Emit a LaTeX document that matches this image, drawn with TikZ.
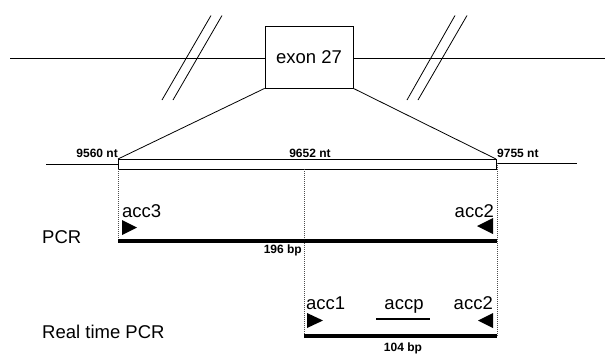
\documentclass[tikz,border=0pt]{standalone}
\usepackage{fontspec}
\setmainfont{Liberation Sans}
\begin{document}
\begin{tikzpicture}[x=1pt,y=-1pt,
  thin line/.style={line width=0.8pt,black},
  bar/.style={line width=3.4pt,black},
  guide/.style={line width=0.6pt,black!70,dash pattern=on 1pt off 1pt},
  big/.style={inner sep=0pt,font=\fontsize{18.5}{20}\selectfont},
  small/.style={inner sep=0pt,font=\fontsize{12}{13}\selectfont\bfseries},
  primer/.style={fill=black}]
\useasboundingbox (0,0) rectangle (605,354);
% genomic line and exon box
\draw[thin line] (10,58) -- (605,58);
\node[draw,line width=0.8pt,fill=white,minimum width=88pt,minimum height=62pt,inner sep=0pt,
  font=\fontsize{18.5}{20}\selectfont] (exon) at (309,57) {exon 27};
% break marks
\draw[thin line] (162,100) -- (211,15.5);
\draw[thin line] (173,100) -- (222,15.5);
\draw[thin line] (407,100) -- (455,15.5);
\draw[thin line] (418,100) -- (467,15.5);
% expanded exon
\coordinate (rtl) at (118,159);
\coordinate (rtr) at (496,159);
\coordinate (rbl) at (118,169);
\coordinate (rbr) at (496,169);
\draw[thin line] (exon.south west) -- (rtl);
\draw[thin line] (exon.south east) -- (rtr);
\draw[thin line] (46,164) -- (118,164);
\draw[thin line] (496,163) -- (577,163);
\draw[thin line] (rtl) rectangle (rbr);
% labels of positions
\node[small,anchor=base east] (n1) at (118,157.3) {9560 nt};
\node[small,anchor=base] (n2) at (310,157.3) {9652 nt};
\node[small,anchor=base west] (n3) at (497,157.3) {9755 nt};
% guides
\coordinate (g1t) at (118,169);
\coordinate (g1b) at (118,241);
\coordinate (g2t) at (304,169);
\coordinate (g2b) at (304,336);
\coordinate (g3t) at (497,163);
\coordinate (g3b) at (497,336);
\draw[guide] (g1t) -- (g1b);
\draw[guide] (g2t) -- (g2b);
\draw[guide] (g3t) -- (g3b);
% PCR
\node[big,anchor=base west] (pcr) at (42,243.6) {PCR};
\node[big,anchor=base west] (acc3) at (122,217) {acc3};
\node[big,anchor=base east] (acc2a) at (494,217) {acc2};
\fill[primer] (122,220) -- (137,227.5) -- (122,235) -- cycle;
\fill[primer] (493,218) -- (477,226) -- (493,234) -- cycle;
\coordinate (p1) at (118,241);
\coordinate (p2) at (497,241);
\draw[bar] (p1) -- (p2);
\node[small,anchor=base east] (bp196) at (302,253.3) {196 bp};
% Real time PCR
\node[big,anchor=base west] (rt) at (42,338.6) {Real time PCR};
\node[big,anchor=base west] (acc1) at (306,309) {acc1};
\node[big,anchor=base] (accp) at (404,309) {accp};
\node[big,anchor=base east] (acc2b) at (493,309) {acc2};
\fill[primer] (307,313) -- (323,320.5) -- (307,328) -- cycle;
\fill[primer] (493,313) -- (478,320.5) -- (493,328) -- cycle;
\coordinate (q1) at (376,319);
\coordinate (q2) at (430,319);
\draw[line width=1.5pt] (q1) -- (q2);
\coordinate (r1) at (304,336);
\coordinate (r2) at (497,336);
\draw[bar] (r1) -- (r2);
\node[small,anchor=base] (bp104) at (403,351.5) {104 bp};
\end{tikzpicture}
\end{document}
